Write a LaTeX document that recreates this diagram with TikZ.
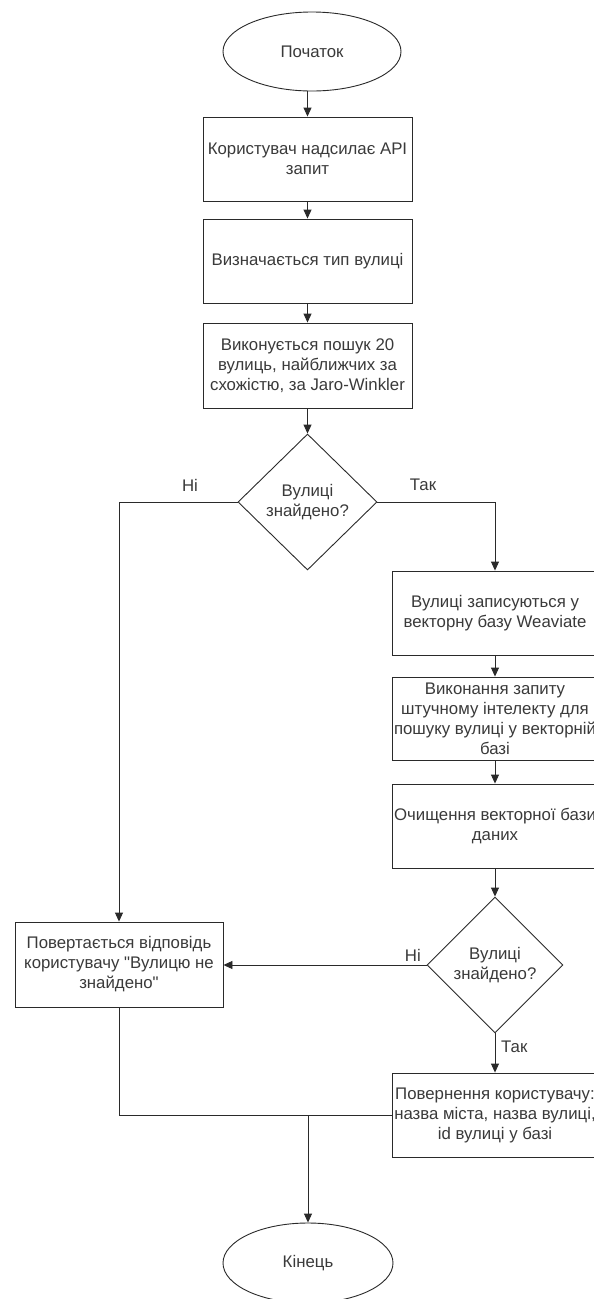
\documentclass[tikz,border=0pt]{standalone}
\usepackage{fontspec}
\setmainfont{Liberation Sans}[Ligatures=TeXOff]
\usetikzlibrary{shapes.geometric,arrows.meta}
\definecolor{linec}{HTML}{2A2A2A}
\definecolor{textc}{HTML}{3A3A3A}
\tikzset{
  base/.style={draw=linec, line width=0.9pt, text=textc, font=\fontsize{16.8}{20}\selectfont, align=center, inner sep=0pt, fill=white},
  proc/.style={base, rectangle, minimum width=209pt, minimum height=84pt},
  rproc/.style={base, rectangle, minimum width=206pt, minimum height=84pt},
  term/.style={base, ellipse, minimum width=178pt, minimum height=79pt},
  dec/.style={base, diamond, minimum width=139pt, minimum height=136pt},
  arr/.style={draw=linec, line width=0.9pt, -{Triangle[length=9pt,width=8pt]}},
  ln/.style={draw=linec, line width=0.9pt},
  lbl/.style={text=textc, font=\fontsize{16.8}{20}\selectfont, inner sep=0pt}
}
\begin{document}
\begin{tikzpicture}[x=1pt,y=-1pt]
\useasboundingbox (0,0) rectangle (594,1299);
\clip (0,0) rectangle (594,1299);
\fill[white] (0,0) rectangle (594,1299);

\node[term] (start) at (312,51.5) {Початок};
\node[proc] (b1) at (307.5,159) {Користувач надсилає API\\запит};
\node[proc] (b2) at (307.5,261) {Визначається тип вулиці};
\node[proc, minimum height=85pt] (b3) at (307.5,365.5) {Виконується пошук 20\\вулиць, найближчих за\\схожістю, за Jaro-Winkler};
\node[dec] (d1) at (307.5,502) {Вулиці\\знайдено?};

\node[rproc] (r1) at (495,613) {Вулиці записуються у\\векторну базу Weaviate};
\node[rproc, minimum height=83pt] (r2) at (495,718.5) {Виконання запиту\\штучному інтелекту для\\пошуку вулиці у векторній\\базі};
\node[rproc] (r3) at (495,826) {Очищення векторної бази\\даних};
\node[dec, minimum width=136pt] (d2) at (495,965) {Вулиці\\знайдено?};
\node[rproc] (r4) at (495,1115) {Повернення користувачу:\\назва міста, назва вулиці,\\id вулиці у базі};

\node[proc, minimum width=208pt, minimum height=85pt] (nf) at (119,964.5) {Повертається відповідь\\користувачу "Вулицю не\\знайдено"};

\node[term, minimum width=170pt, minimum height=80pt] (end) at (308,1263) {Кінець};

\draw[arr] (start.south -| b1.north) -- (b1.north);
\draw[arr] (b1) -- (b2);
\draw[arr] (b2) -- (b3);
\draw[arr] (b3) -- (d1);
\draw[arr] (d1.west) -| (nf.north);
\draw[arr] (d1.east) -| (r1.north);
\draw[arr] (r1) -- (r2);
\draw[arr] (r2) -- (r3);
\draw[arr] (r3) -- (d2);
\draw[arr] (d2.west) -- (d2.west -| nf.east);
\draw[arr] (d2) -- (r4);
\coordinate (j) at (end.north |- r4.west);
\draw[ln] (nf.south) |- (j) -- (r4.west);
\draw[arr] (j) -- (end.north);

\node[lbl] (n1) at (190,485) {Ні};
\node[lbl] (y1) at (423,485) {Так};
\node[lbl, anchor=east] (n2) at (421,955) {Ні};
\node[lbl, anchor=west] (y2) at (501,1047) {Так};
\end{tikzpicture}
\end{document}
